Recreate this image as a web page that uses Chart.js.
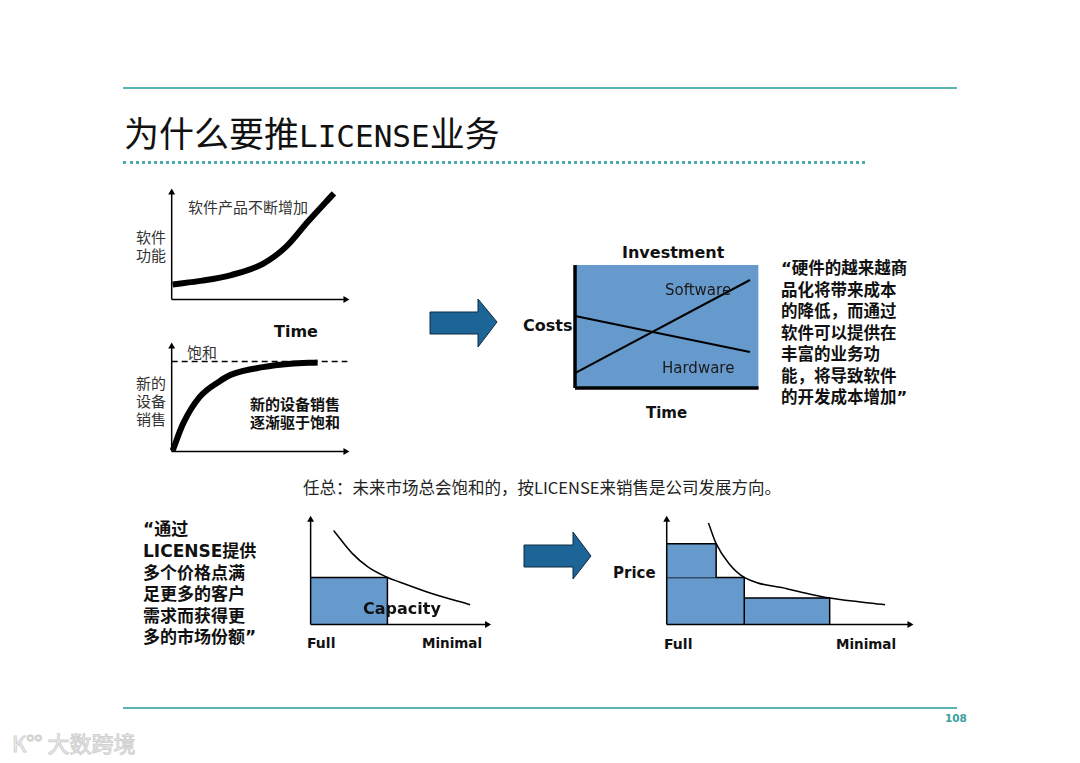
<!DOCTYPE html>
<html>
<head>
<meta charset="utf-8">
<script src="https://cdn.jsdelivr.net/npm/chart.js@4.4.1/dist/chart.umd.min.js"></script>
<style>
  body { margin: 0; width: 1080px; height: 763px; background: #fff; position: relative; overflow: hidden;
         font-family: "Noto Sans CJK SC", sans-serif; color: #111; }
  .t { position: absolute; white-space: nowrap; }
  .en { font-family: "DejaVu Sans", sans-serif; }
  .b { font-weight: bold; }
  .rule { position: absolute; left: 123px; width: 834px; border-top: 2px solid #5ab4b4; }
  .s15 { font-size: 15px; line-height: 18px; color: #333; }
  .q { font-size: 16.5px; line-height: 21px; font-weight: bold; }
  .ql { font-size: 17px; line-height: 21px; font-weight: bold; }
</style>
</head>
<body>

<div class="rule" style="top:87px"></div>
<div class="t" style="left:124px;top:112px;font-size:35px;line-height:40px;">为什么要推<span style="font-family:'DejaVu Sans Mono';font-size:31px;">LICENSE</span>业务</div>
<div style="position:absolute;left:123px;top:161px;width:742px;border-top:3px dotted #4aa9a9;"></div>

<!-- top-left panel texts -->
<div class="t s15" style="left:188px;top:198px;">软件产品不断增加</div>
<div class="t s15" style="left:136px;top:228px;">软件</div>
<div class="t s15" style="left:136px;top:246px;">功能</div>
<div class="t en b" style="left:274px;top:322px;font-size:16px;line-height:20px;">Time</div>
<div class="t s15" style="left:187px;top:343px;">饱和</div>
<div class="t s15" style="left:136px;top:374px;">新的</div>
<div class="t s15" style="left:136px;top:392px;">设备</div>
<div class="t s15" style="left:136px;top:410px;">销售</div>
<div class="t b" style="left:250px;top:395px;font-size:15px;line-height:18px;">新的设备销售</div>
<div class="t b" style="left:250px;top:413px;font-size:15px;line-height:18px;">逐渐驱于饱和</div>

<!-- investment texts -->
<div class="t en b" style="left:622px;top:243px;font-size:16px;line-height:20px;">Investment</div>
<div class="t en b" style="left:523px;top:316px;font-size:16px;line-height:20px;">Costs</div>
<div class="t en b" style="left:646px;top:403px;font-size:15px;line-height:20px;">Time</div>
<div class="t q" style="left:781px;top:257px;"><span class="en">“</span>硬件的越来越商</div>
<div class="t q" style="left:781px;top:279px;">品化将带来成本</div>
<div class="t q" style="left:781px;top:300px;">的降低，而通过</div>
<div class="t q" style="left:781px;top:322px;">软件可以提供在</div>
<div class="t q" style="left:781px;top:343px;">丰富的业务功</div>
<div class="t q" style="left:781px;top:365px;">能，将导致软件</div>
<div class="t q" style="left:781px;top:386px;">的开发成本增加<span class="en">”</span></div>

<div class="t" style="left:303px;top:476px;font-size:16.5px;line-height:22px;color:#222;">任总：未来市场总会饱和的，按LICENSE来销售是公司发展方向。</div>

<div class="t ql" style="left:143px;top:517px;"><span class="en">“</span>通过</div>
<div class="t ql" style="left:143px;top:539px;"><span class="en">LICENSE</span>提供</div>
<div class="t ql" style="left:143px;top:561px;">多个价格点满</div>
<div class="t ql" style="left:143px;top:582px;">足更多的客户</div>
<div class="t ql" style="left:143px;top:604px;">需求而获得更</div>
<div class="t ql" style="left:143px;top:625px;">多的市场份额<span class="en">”</span></div>

<div class="t en b" style="left:307px;top:634px;font-size:14px;line-height:18px;">Full</div>
<div class="t en b" style="left:422px;top:634px;font-size:13.5px;line-height:18px;">Minimal</div>
<div class="t en b" style="left:613px;top:563px;font-size:15px;line-height:20px;">Price</div>
<div class="t en b" style="left:664px;top:635px;font-size:14px;line-height:18px;">Full</div>
<div class="t en b" style="left:836px;top:635px;font-size:13.5px;line-height:18px;">Minimal</div>

<svg style="position:absolute;left:0;top:0;" width="1080" height="763">
  <polygon points="430,312 478,312 478,299 497,322 478,347 478,334 430,334" fill="#1c6596" stroke="#0d2a40" stroke-width="1"/>
  <polygon points="524,545 573,545 573,532 591,556 573,579 573,567 524,567" fill="#1c6596" stroke="#0d2a40" stroke-width="1"/>
</svg>

<div class="rule" style="top:707px"></div>
<div class="t en b" style="left:945px;top:711px;font-size:10.5px;line-height:14px;color:#3a9f9f;">108</div>
<div class="t" style="left:12px;top:728px;font-size:22px;line-height:28px;color:#f6f6f6;-webkit-text-stroke:1px #d0d0d0;">K°° 大数跨境</div>

<script>
// top-left: software functionality over time
const funcTime = [0.05, 1.6, 3.1, 4.75, 5.95, 7.1, 8.45];
const funcLevel = [0.8, 1.0, 1.3, 1.9, 2.8, 4.15, 5.65];

// saturation of new device sales
const salesTime = [0.05, 0.6, 1.45, 2.5, 3.1, 4.75, 6.2, 7.6];
const salesLevel = [0.05, 1.5, 2.9, 3.75, 4.1, 4.5, 4.68, 4.75];
const saturationLevel = 4.8;

// investment: costs over time
const investTime = [0, 9.72];
const softwareCost = [0.83, 6.0];
const hardwareCost = [4.0, 2.0];
const investBox = { width: 10.2, height: 6.83 };

// single price point vs capacity
const capacityCurveX = [1.33, 2.39, 3.33, 4.44, 5.17, 7.0, 9.22];
const capacityCurveY = [5.56, 4.22, 3.39, 2.78, 2.5, 1.83, 1.17];
const singlePrice = { width: 4.44, price: 2.78 };

// multiple price points
const priceCurveX = [2.39, 2.83, 3.56, 4.44, 6.89, 9.33, 12.5];
const priceCurveY = [6.0, 4.78, 3.61, 2.78, 2.11, 1.56, 1.17];
const tierStart = [0, 0, 4.44];
const tierEnd = [2.83, 4.44, 9.33];
const tierLow = [2.78, 0, 0];
const tierHigh = [4.78, 2.78, 1.56];

const BLUE = '#6699cc';
const pts = (xs, ys) => xs.map((x, i) => ({ x: x, y: ys[i] }));

function curve(xs, ys, width, extra) {
    return Object.assign({
        data: pts(xs, ys), showLine: true, borderColor: '#000', borderWidth: width,
        pointRadius: 0, cubicInterpolationMode: 'monotone', fill: false, clip: false, order: 0
    }, extra || {});
}

function axisY(top, w) {
    return { data: [{ x: 0, y: 0 }, { x: 0, y: top }], showLine: true, borderColor: '#000', borderWidth: w || 1.5,
        pointStyle: 'triangle', pointRadius: [0, 4], pointBackgroundColor: '#000', pointBorderWidth: 0,
        rotation: 0, clip: false, order: 0 };
}

function axisX(right, w) {
    return { data: [{ x: 0, y: 0 }, { x: right, y: 0 }], showLine: true, borderColor: '#000', borderWidth: w || 1.5,
        pointStyle: 'triangle', pointRadius: [0, 4], pointBackgroundColor: '#000', pointBorderWidth: 0,
        rotation: 90, clip: false, order: 0 };
}

function rect(x0, x1, y0, y1) {
    return { data: [{ x: x0, y: y1 }, { x: x1, y: y1 }, { x: x1, y: y0 }], showLine: true,
        borderColor: '#000', borderWidth: 1.5, backgroundColor: BLUE, pointRadius: 0,
        tension: 0, fill: { value: y0 }, clip: false, order: 2 };
}

function panel(left, top, w, h, xr, yr, datasets) {
    const c = document.createElement('canvas');
    c.width = w; c.height = h;
    c.style.cssText = 'position:absolute;left:' + left + 'px;top:' + top + 'px;width:' + w + 'px;height:' + h + 'px;';
    document.body.appendChild(c);
    return new Chart(c, {
        type: 'scatter',
        data: { datasets: datasets },
        options: {
            responsive: false,
            animation: false,
            events: [],
            layout: { padding: 0 },
            plugins: { legend: { display: false }, tooltip: { enabled: false } },
            scales: {
                x: { type: 'linear', display: false, min: xr[0], max: xr[1] },
                y: { type: 'linear', display: false, min: yr[0], max: yr[1] }
            }
        }
    });
}

panel(160, 180, 200, 130, [-0.4, 9.6], [-0.35, 6.15], [
    axisY(5.7), axisX(9.05),
    curve(funcTime, funcLevel, 6)
]);

panel(160, 334, 200, 130, [-0.4, 9.6], [-0.45, 6.05], [
    axisY(5.6), axisX(9.05),
    curve([0, 9.15], [saturationLevel, saturationLevel], 1.5, { borderDash: [6, 4], cubicInterpolationMode: 'default', tension: 0 }),
    curve(salesTime, salesLevel, 6)
]);

panel(565, 255, 205, 140, [-0.556, 10.833], [-0.389, 7.389], [
    curve(investTime, softwareCost, 2, { tension: 0, cubicInterpolationMode: 'default' }),
    curve(investTime, hardwareCost, 2, { tension: 0, cubicInterpolationMode: 'default' }),
    { data: [{ x: 0, y: 0 }, { x: 0, y: investBox.height }], showLine: true, borderColor: '#000', borderWidth: 3.5, pointRadius: 0, clip: false, order: 0 },
    { data: [{ x: 0, y: 0 }, { x: investBox.width, y: 0 }], showLine: true, borderColor: '#000', borderWidth: 3.5, pointRadius: 0, clip: false, order: 0 },
    { data: [{ x: 0, y: investBox.height }, { x: investBox.width, y: investBox.height }], showLine: true, borderWidth: 0,
      borderColor: BLUE, backgroundColor: BLUE, pointRadius: 0, fill: 'origin', clip: false, order: 3 }
]);
</script>
<div class="t en" style="left:665px;top:280px;font-size:15px;line-height:20px;color:#1a1a1a;">Software</div>
<div class="t en" style="left:662px;top:358px;font-size:15px;line-height:20px;color:#1a1a1a;">Hardware</div>
<script>
panel(297, 505, 205, 130, [-0.556, 10.833], [-0.389, 6.833], [
    axisY(6.2), axisX(10.2),
    curve(capacityCurveX, capacityCurveY, 1.5),
    rect(0, singlePrice.width, 0, singlePrice.price)
]);
</script>
<div class="t en b" style="left:363px;top:599px;font-size:16px;line-height:20px;">Capacity</div>
<script>
const tiers = tierStart.map((s, i) => rect(s, tierEnd[i], tierLow[i], tierHigh[i]));
panel(653, 505, 270, 130, [-0.556, 14.444], [-0.389, 6.833], [
    axisY(6.2), axisX(13.9),
    curve(priceCurveX, priceCurveY, 1.5)
].concat(tiers));
</script>
</body>
</html>
